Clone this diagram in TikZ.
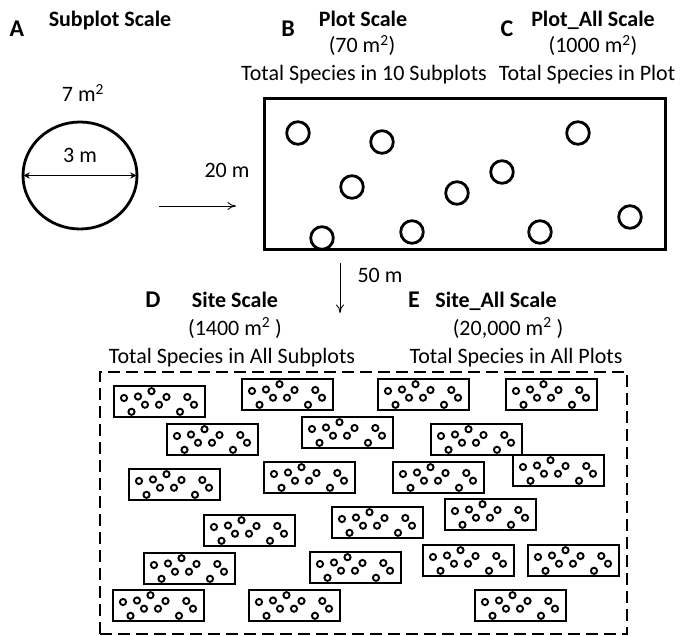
\documentclass[tikz,border=0pt]{standalone}
\usepackage{fontspec}
\setmainfont{Carlito}
\usetikzlibrary{arrows.meta, shapes.geometric}

\begin{document}
\begin{tikzpicture}[x=1pt, y=-1pt,
        txt/.style={font=\fontsize{22}{27}\selectfont, anchor=base, inner sep=0pt},
        ttl/.style={txt, font=\fontsize{22}{27}\selectfont\bfseries},
        lbl/.style={txt, font=\fontsize{24}{28}\selectfont\bfseries},
        thinarrow/.style={-{To[length=3mm, width=2.8mm]}, line width=0.9pt},
        spot/.style={line width=2.8pt},
        minispot/.style={line width=1.9pt},
        miniplot/.style={line width=2.5pt}
    ]
        \useasboundingbox (0,0) rectangle (687,636);

        % Subplot
        \node[lbl] (labA) at (17,37) {A};
        \node[ttl] (subtitle) at (110,27) {Subplot Scale};
        \node[txt] (subarea) at (83,102) {7 m\textsuperscript{2}};
        \node[draw, ellipse, line width=2.8pt, minimum width=114pt, minimum height=107pt, inner sep=0pt] (sub) at (80,175.5) {};
        \node[txt] (subdiam) at (80,163) {3 m};
        \draw[{Stealth[length=2.4mm, width=2.2mm]}-{Stealth[length=2.4mm, width=2.2mm]}, line width=1.1pt]
            ([xshift=1.5pt]sub.west) -- ([xshift=-1.5pt]sub.east);

        % Arrow to Plot
        \coordinate (zoomfrom) at (159,206);
        \coordinate (zoomto) at (236,206);
        \draw[thinarrow] (zoomfrom) -- (zoomto);
        \node[txt] (plotwidth) at (227,178) {20 m};

        % Plot and Plot_All
        \node[lbl] (labB) at (288,37) {B};
        \node[ttl] (plottitle) at (363,27) {Plot Scale};
        \node[txt] (plotarea) at (362,53) {(70 m\textsuperscript{2})};
        \node[txt] (plotnote) at (364,81) {Total Species in 10 Subplots};
        \node[lbl] (labC) at (507,37) {C};
        \node[ttl] (alltitle) at (593,27) {Plot\_All Scale};
        \node[txt] (allarea) at (593,53) {(1000 m\textsuperscript{2})};
        \node[txt] (allnote) at (587,81) {Total Species in Plot};

        \node[draw, line width=3pt, minimum width=401pt, minimum height=150pt, inner sep=0pt] (plot) at (464.5,174) {};
        \foreach \sx/\sy in {298/133, 382/142, 352/187, 457/193, 502/172, 578/133, 630/217, 322/238, 412/232, 540/232}
            \draw[spot] (\sx,\sy) circle[radius=11.3pt];

        % Arrow to Site
        \coordinate (sitefrom) at (340,263);
        \coordinate (siteto) at (340,313);
        \draw[thinarrow] (sitefrom) -- (siteto);
        \node[txt] (plotlength) at (380,282) {50 m};

        % Site and Site_All
        \node[lbl] (labD) at (153,307) {D};
        \node[ttl] (sitetitle) at (235,307) {Site Scale};
        \node[txt] (sitearea) at (235,335) {(1400 m\textsuperscript{2} )};
        \node[txt] (sitenote) at (232,363) {Total Species in All Subplots};
        \node[lbl] (labE) at (414,307) {E};
        \node[ttl] (sitealltitle) at (496,307) {Site\_All Scale};
        \node[txt] (siteallarea) at (508,335) {(20,000 m\textsuperscript{2} )};
        \node[txt] (siteallnote) at (516,363) {Total Species in All Plots};

        \node[draw, dash pattern=on 12pt off 6pt, line width=2.6pt, minimum width=527pt, minimum height=262pt, inner sep=0pt] (site) at (363.5,503) {};

        \foreach \px/\py in {114/386, 242/379, 378/379, 506/379, 167/424, 302/417, 431/424,
                129/469, 264/462, 393/462, 513/455, 204/515, 332/507, 445/499,
                144/553, 310/552, 423/545, 528/545, 113/590, 249/590, 475/590} {
            \draw[miniplot] (\px,\py) rectangle ++(91,31);
            \foreach \cx/\cy in {10/12, 24/10.5, 37.5/5.2, 52.5/11, 31/18.7, 45/18.7, 17.5/25.8, 73.3/11, 80/18.7, 66/25.8}
                \draw[minispot] (\px+\cx,\py+\cy) circle[radius=3.1pt];
        }
    \end{tikzpicture}
\end{document}
